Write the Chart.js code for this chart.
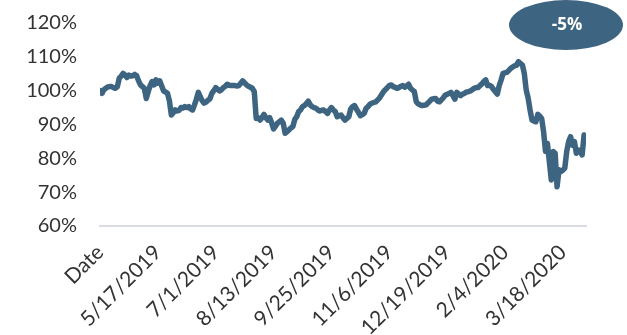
<!DOCTYPE html>
<html>
<head>
<meta charset="utf-8">
<script src="https://cdn.jsdelivr.net/npm/chart.js@4"></script>
<style>
  html, body { margin: 0; padding: 0; background: #ffffff; }
  #wrap { width: 627px; height: 335px; }
</style>
</head>
<body>
<div id="wrap"><canvas id="chart" width="627" height="335"></canvas></div>
<script>
// category labels shown on the x axis, and the point index each one sits on
const tickLabels  = ['Date', '5/17/2019', '7/1/2019', '8/13/2019', '9/25/2019',
                     '11/6/2019', '12/19/2019', '2/4/2020', '3/18/2020'];
const tickIndexes = [0, 30, 60, 90, 120, 150, 180, 210, 240];

// relative performance, % (one value per trading day)
const values = [
   100.0,  99.2, 100.3, 100.7, 101.1, 101.2, 101.2, 100.9, 100.7, 101.2,
   103.7, 104.3, 105.1, 104.6, 103.9, 104.6, 104.3, 104.4, 104.8, 104.4,
   102.9, 101.7, 101.2, 100.7,  97.7,  99.7, 101.5, 102.7, 101.7, 103.2,
   102.2, 102.9, 101.4,  99.9,  99.6,  99.2,  97.0,  92.8,  93.5,  94.3,
    94.0,  94.2,  95.0,  94.9,  95.3,  95.0,  95.3,  94.6,  94.3,  95.8,
    97.5,  99.5,  98.2,  97.0,  96.3,  96.6,  97.2,  97.6,  99.2, 100.0,
   100.9, 100.4,  99.9, 100.3, 100.9, 101.3, 101.9, 101.6, 101.5, 101.5,
   101.5, 101.4, 101.5, 102.2, 102.9, 102.3, 101.7, 101.3, 101.0, 100.7,
    99.7,  91.8,  92.0,  91.3,  92.0,  93.0,  92.0,  91.3,  92.0,  90.5,
    88.7,  89.5,  90.4,  90.8,  91.3,  90.4,  87.4,  87.9,  88.4,  89.0,
    89.4,  91.5,  92.3,  93.8,  94.3,  95.3,  95.6,  96.2,  96.9,  95.8,
    95.3,  95.0,  94.8,  94.3,  94.0,  94.2,  94.3,  93.8,  93.3,  94.3,
    95.0,  94.3,  93.8,  92.3,  92.6,  92.8,  92.0,  91.3,  91.8,  92.3,
    94.6,  95.3,  95.6,  94.5,  93.6,  92.6,  92.9,  93.3,  94.8,  95.3,
    96.0,  96.3,  96.5,  96.7,  97.3,  97.9,  98.8,  99.7, 100.3, 100.9,
   101.5, 101.7, 101.2, 101.0, 100.7, 100.9, 101.3, 101.5, 101.0, 101.4,
   101.9, 100.7, 100.2,  99.7,  96.7,  96.1,  95.8,  95.6,  95.7,  95.8,
    96.3,  96.9,  97.5,  97.6,  97.7,  96.9,  96.7,  97.3,  97.9,  98.7,
    98.9,  99.2,  99.5,  98.5,  97.5,  99.5,  99.0,  98.5,  99.0,  99.2,
    99.6,  99.7,  99.9, 100.3, 100.7, 100.9, 100.9, 101.5, 102.0, 102.7,
   103.2, 101.5, 101.6, 101.2, 100.4,  99.7,  99.0, 101.5, 103.2, 105.1,
   105.3, 105.4, 106.0, 106.6, 107.0, 107.4, 107.5, 108.6, 108.0, 107.6,
   105.1, 100.2,  97.8,  94.3,  91.3,  91.0,  90.8,  93.0,  92.5,  91.8,
    87.9,  82.0,  84.4,  79.0,  73.6,  82.0,  81.5,  71.6,  76.6,  76.1,
    76.5,  77.1,  82.0,  85.0,  86.4,  83.9,  84.9,  81.5,  82.5,  82.0,
    81.0,  86.9,  85.9
];

const badgeText = '-5%';

const LINE_COLOR = '#3d6480';
const TEXT_COLOR = '#333333';
const AXIS_COLOR = '#d9dde3';
const FONT       = 'Lato';
const BADGE_FONT = '"Open Sans"';

// oval callout in the top right corner
const badgePlugin = {
   id: 'badge',
   afterDraw(chart) {
      const ctx = chart.ctx;
      ctx.save();
      ctx.fillStyle = LINE_COLOR;
      ctx.beginPath();
      ctx.ellipse(566, 25, 57, 25, 0, 0, Math.PI * 2);
      ctx.fill();
      ctx.fillStyle = '#ffffff';
      ctx.font = '700 17px ' + BADGE_FONT;
      ctx.textAlign = 'center';
      ctx.textBaseline = 'middle';
      ctx.fillText(badgeText, 567, 25);
      ctx.restore();
   }
};

var drawChart = function drawChart() {
   new Chart(document.getElementById('chart'), {
      type: 'line',
      data: {
         datasets: [{
            data: values.map((v, i) => ({ x: i, y: v })),
            borderColor: LINE_COLOR,
            borderWidth: 5.5,
            borderJoinStyle: 'round',
            borderCapStyle: 'round',
            pointRadius: 0,
            tension: 0,
            fill: false
         }]
      },
      options: {
         responsive: false,
         animation: false,
         layout: { padding: { top: 11, right: 41, bottom: 0, left: 0 } },
         plugins: {
            legend:  { display: false },
            tooltip: { enabled: false }
         },
         scales: {
            x: {
               type: 'linear',
               min: 0,
               max: values.length - 1,
               afterBuildTicks: scale => { scale.ticks = tickIndexes.map(v => ({ value: v })); },
               afterFit: scale => { scale.height = 109; },
               grid:   { display: false },
               border: { display: true, color: AXIS_COLOR, width: 2 },
               ticks: {
                  autoSkip: false,
                  maxRotation: 45,
                  minRotation: 45,
                  padding: 6,
                  color: TEXT_COLOR,
                  font: { family: FONT, size: 21 },
                  callback: v => tickLabels[tickIndexes.indexOf(v)]
               }
            },
            y: {
               min: 60,
               max: 120,
               afterFit: scale => { scale.width = 100; },
               // invisible tick marks keep the labels away from the plot
               grid:   { display: true, drawOnChartArea: false, drawTicks: true, tickLength: 12, color: 'rgba(0,0,0,0)' },
               border: { display: false },
               ticks: {
                  stepSize: 10,
                  padding: 11,
                  color: TEXT_COLOR,
                  font: { family: FONT, size: 20 },
                  callback: v => v + '%'
               }
            }
         }
      },
      plugins: [badgePlugin]
   });
};

Promise.all([
   document.fonts.load('20px ' + FONT),
   document.fonts.load('700 17px ' + BADGE_FONT)
]).then(drawChart, drawChart);
</script>
</body>
</html>
